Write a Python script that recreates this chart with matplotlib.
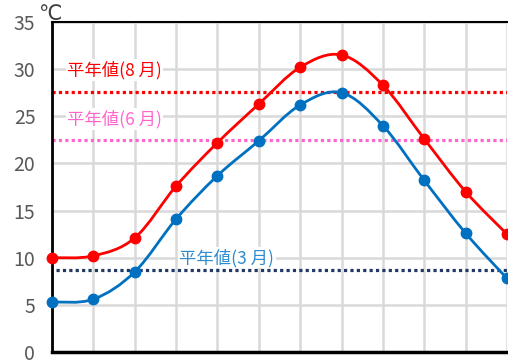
import numpy as np
import matplotlib.pyplot as plt
from matplotlib.path import Path
from matplotlib.patches import PathPatch

plt.rcParams['font.family'] = ['Noto Sans CJK JP', 'DejaVu Sans']

# monthly temperatures
months = list(range(12))
aug_temp = [10.0, 10.2, 12.1, 17.6, 22.2, 26.3, 30.2, 31.5, 28.3, 22.6, 17.0, 12.5]
jun_temp = [5.3, 5.6, 8.5, 14.1, 18.7, 22.4, 26.2, 27.5, 24.0, 18.2, 12.6, 7.8]

# normal values
normal_aug = 27.6
normal_jun = 22.5
normal_mar = 8.7
yticks = [0, 5, 10, 15, 20, 25, 30, 35]


def smooth_path(x, y, t=0.17):
    # cubic bezier through the points (catmull-rom style handles)
    x = np.asarray(x, float)
    y = np.asarray(y, float)
    verts = [(x[0], y[0])]
    codes = [Path.MOVETO]
    n = len(x)
    for i in range(n - 1):
        p0 = i - 1 if i > 0 else i
        p3 = i + 2 if i + 2 < n else i + 1
        c1 = (x[i] + t * (x[i + 1] - x[p0]), y[i] + t * (y[i + 1] - y[p0]))
        c2 = (x[i + 1] - t * (x[p3] - x[i]), y[i + 1] - t * (y[p3] - y[i]))
        verts += [c1, c2, (x[i + 1], y[i + 1])]
        codes += [Path.CURVE4] * 3
    return Path(verts, codes)


fig = plt.figure(figsize=(5.08, 3.61), dpi=100)
ax = fig.add_axes([52 / 508, 9 / 361, 455 / 508, 330 / 361])

ax.set_xlim(0, 11)
ax.set_ylim(0, 35)
ax.set_xticks(months)
ax.set_yticks(yticks)
ax.set_xticklabels([])
ax.tick_params(length=0)
ax.tick_params(axis='y', labelsize=14, labelcolor='#595959', pad=12)
ax.grid(True, color='#d9d9d9', linewidth=1.8)
ax.set_axisbelow(True)
for side in ['left', 'bottom', 'top']:
    ax.spines[side].set_color('black')
ax.spines['left'].set_linewidth(2)
ax.spines['bottom'].set_linewidth(2.5)
ax.spines['top'].set_linewidth(1.5)
ax.spines['right'].set_visible(False)

dot = (0, (1, 1))
ax.axhline(normal_aug, color='#ff0000', linewidth=2.3, linestyle=dot, zorder=2)
ax.axhline(normal_jun, color='#ff66cc', linewidth=2.3, linestyle=dot, zorder=2)
ax.plot([0.1, 11], [normal_mar, normal_mar], color='#1f3864', linewidth=2.3,
        linestyle=dot, zorder=2)

for vals, col in [(aug_temp, '#ff0000'), (jun_temp, '#0070c0')]:
    ax.add_patch(PathPatch(smooth_path(months, vals), facecolor='none',
                           edgecolor=col, linewidth=2, zorder=3, clip_on=False))
    ax.plot(months, vals, 'o', color=col, markersize=7.5, zorder=4, clip_on=False)

box = dict(facecolor='white', edgecolor='none', pad=1)
ax.text(0.36, 29.9, '平年値(8 月)', color='#ff0000', fontsize=12.5, va='center',
        bbox=box, zorder=5)
ax.text(0.36, 24.7, '平年値(6 月)', color='#ff66cc', fontsize=12.5, va='center',
        bbox=box, zorder=5)
ax.text(3.08, 10.0, '平年値(3 月)', color='#2e8bd0', fontsize=12.5, va='center',
        bbox=box, zorder=5)

fig.text(38 / 508, 1 - 14 / 361, '℃', fontsize=15, color='#404040', va='center',
         family=['DejaVu Sans'])

fig.savefig('out.png', dpi=100)
